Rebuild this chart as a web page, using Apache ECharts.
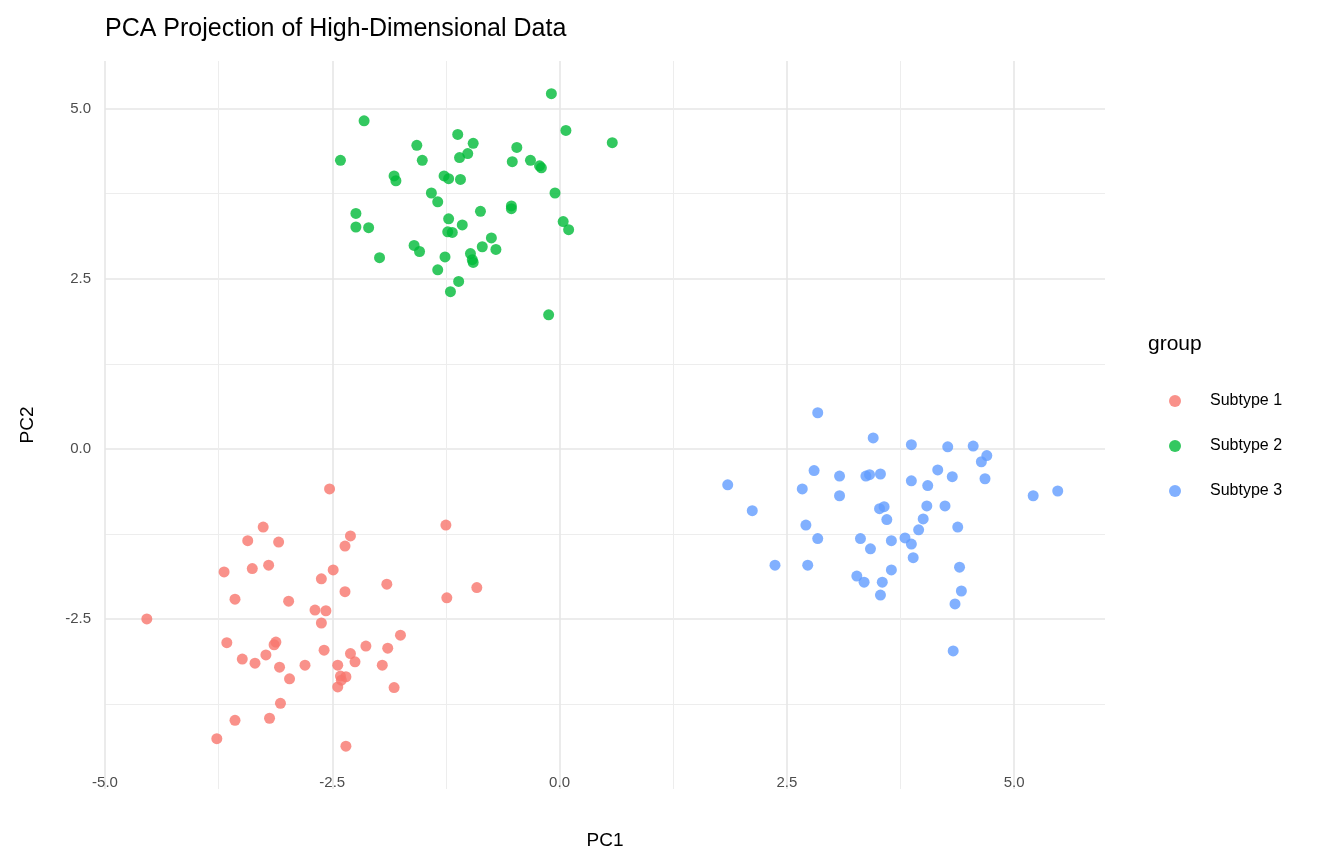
<!DOCTYPE html>
<html>
<head>
<meta charset="utf-8">
<script src="https://cdn.jsdelivr.net/npm/echarts@6/dist/echarts.min.js"></script>
<style>html,body{margin:0;padding:0;background:#fff}#container{width:1344px;height:864px}</style>
</head>
<body>
<div id="container"></div>
<script>
var groups = ['Subtype 1', 'Subtype 2', 'Subtype 3'];
var colors = ['#F8766D', '#00BA38', '#619CFF'];

var subtype1 = [[-4.54,-2.5],[-3.77,-4.26],[-3.57,-3.99],[-3.69,-1.81],[-3.57,-2.21],[-3.66,-2.85],
  [-3.49,-3.09],[-3.35,-3.15],[-3.43,-1.35],[-3.38,-1.76],[-3.26,-1.15],[-3.20,-1.71],[-3.23,-3.03],
  [-3.19,-3.96],[-3.14,-2.88],[-3.12,-2.84],[-3.09,-1.37],[-3.08,-3.21],[-3.07,-3.74],[-2.98,-2.24],
  [-2.97,-3.38],[-2.80,-3.18],[-2.69,-2.37],[-2.62,-1.91],[-2.62,-2.56],[-2.59,-2.96],[-2.57,-2.38],
  [-2.53,-0.59],[-2.49,-1.78],[-2.44,-3.18],[-2.44,-3.50],[-2.41,-3.34],[-2.40,-3.40],[-2.36,-2.10],
  [-2.35,-4.37],[-2.35,-3.35],[-2.36,-1.43],[-2.30,-1.28],[-2.30,-3.01],[-2.25,-3.13],[-2.13,-2.90],
  [-1.95,-3.18],[-1.90,-1.99],[-1.89,-2.93],[-1.82,-3.51],[-1.75,-2.74],[-1.25,-1.12],[-1.24,-2.19],
  [-0.91,-2.04]];
var subtype2 = [[-2.41,4.24],[-2.15,4.82],[-2.24,3.46],[-2.24,3.26],[-2.10,3.25],[-1.98,2.81],
  [-1.82,4.01],[-1.80,3.94],[-1.60,2.99],[-1.57,4.46],[-1.54,2.90],[-1.51,4.24],[-1.41,3.76],
  [-1.34,3.63],[-1.34,2.63],[-1.27,4.01],[-1.26,2.82],[-1.22,3.97],[-1.22,3.38],[-1.23,3.19],
  [-1.20,2.31],[-1.18,3.18],[-1.12,4.62],[-1.11,2.46],[-1.10,4.28],[-1.09,3.96],[-1.07,3.29],
  [-1.01,4.34],[-0.98,2.87],[-0.96,2.78],[-0.95,2.74],[-0.95,4.49],[-0.87,3.49],[-0.85,2.97],
  [-0.75,3.10],[-0.70,2.93],[-0.53,3.57],[-0.53,3.53],[-0.52,4.22],[-0.47,4.43],[-0.32,4.24],
  [-0.22,4.16],[-0.20,4.13],[-0.12,1.97],[-0.09,5.22],[-0.05,3.76],[0.04,3.34],[0.07,4.68],
  [0.10,3.22],[0.58,4.50]];
var subtype3 = [[1.85,-0.53],[2.12,-0.91],[2.37,-1.71],[2.67,-0.59],[2.71,-1.12],[2.73,-1.71],
  [2.80,-0.32],[2.84,-1.32],[2.84,0.53],[3.08,-0.40],[3.08,-0.69],[3.31,-1.32],[3.27,-1.87],
  [3.35,-1.96],[3.37,-0.40],[3.41,-0.38],[3.42,-1.47],[3.45,0.16],[3.52,-0.88],[3.53,-0.37],
  [3.53,-2.15],[3.55,-1.96],[3.57,-0.85],[3.60,-1.04],[3.65,-1.35],[3.65,-1.78],[3.80,-1.31],
  [3.87,0.06],[3.87,-0.47],[3.87,-1.40],[3.89,-1.60],[3.95,-1.19],[4.00,-1.03],[4.04,-0.84],
  [4.05,-0.54],[4.16,-0.31],[4.24,-0.84],[4.27,0.03],[4.32,-0.41],[4.33,-2.97],[4.35,-2.28],
  [4.38,-1.15],[4.40,-1.74],[4.42,-2.09],[4.55,0.04],[4.64,-0.19],[4.70,-0.10],[4.68,-0.44],
  [5.21,-0.69],[5.48,-0.62]];
var seriesData = [subtype1, subtype2, subtype3];
var xTicks = [-5, -2.5, 0, 2.5, 5];
var yTicks = [-2.5, 0, 2.5, 5];

var myChart = echarts.init(document.getElementById('container'));

var G = '#e6e6e6', N = 'rgba(0,0,0,0)';
function labelFmt(ticks) {
    return function (v) { return ticks.indexOf(v) >= 0 ? v.toFixed(1) : ''; };
}
var labelStyle = {color: '#4d4d4d', fontSize: 15, fontFamily: 'Liberation Sans'};
var nameStyle = {color: '#000', fontSize: 19, fontFamily: 'Liberation Sans'};

var option = {
    backgroundColor: '#fff',
    title: {
        text: 'PCA Projection of High-Dimensional Data',
        left: 100, top: 12,
        textStyle: {color: '#000', fontSize: 25, fontWeight: 'normal', fontFamily: 'Liberation Sans'}
    },
    grid: {left: 105, right: 239, top: 61, bottom: 75},
    xAxis: {
        type: 'value', min: -5, max: 6, interval: 2.5,
        name: 'PC1', nameLocation: 'middle', nameGap: 42, nameTextStyle: nameStyle,
        axisLine: {show: false}, axisTick: {show: false},
        axisLabel: Object.assign({margin: -14, formatter: labelFmt(xTicks)}, labelStyle),
        splitLine: {show: true, lineStyle: {color: [G, G, G, G, G, N], width: 1.6}},
        minorTick: {show: false, splitNumber: 2},
        minorSplitLine: {show: true, lineStyle: {color: '#ededed', width: 1}}
    },
    yAxis: {
        type: 'value', min: -5, max: 5.7, interval: 2.5,
        name: 'PC2', nameLocation: 'middle', nameGap: 68, nameTextStyle: nameStyle,
        axisLine: {show: false}, axisTick: {show: false},
        axisLabel: Object.assign({margin: 14, formatter: labelFmt(yTicks)}, labelStyle),
        splitLine: {show: true, lineStyle: {color: [N, G, G, G, G, N], width: 1.6}},
        minorTick: {show: false, splitNumber: 2},
        minorSplitLine: {show: true, lineStyle: {color: '#ededed', width: 1}}
    },
    legend: {
        orient: 'vertical', left: 1164, top: 388, itemGap: 29,
        icon: 'circle', itemWidth: 12, itemHeight: 12,
        textStyle: {color: '#000', fontSize: 16, fontFamily: 'Liberation Sans', padding: [0, 0, 0, 24]},
        data: groups
    },
    graphic: [{
        type: 'text', left: 1148, top: 334,
        style: {text: 'group', fill: '#000', font: '21px Liberation Sans'}
    }],
    series: groups.map(function (g, i) {
        return {
            name: g, type: 'scatter', data: seriesData[i], symbolSize: 11,
            itemStyle: {color: colors[i], opacity: 0.8}
        };
    })
};
myChart.setOption(option, true);
</script>
</body>
</html>
